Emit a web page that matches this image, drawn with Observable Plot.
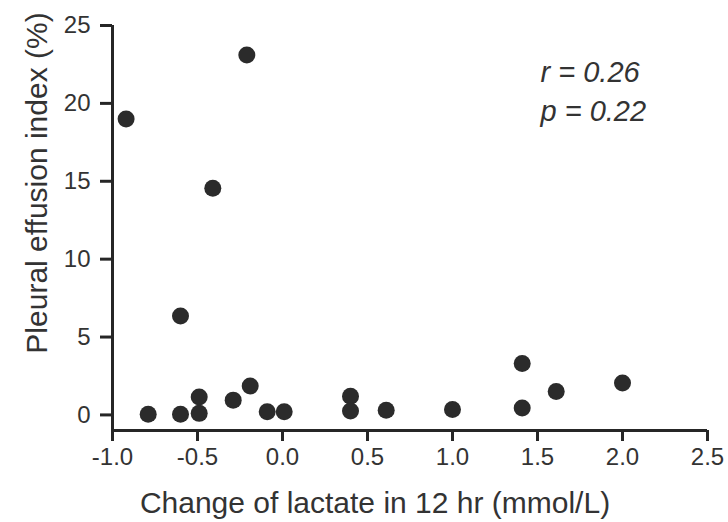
<!DOCTYPE html>
<html>
<head>
<meta charset="utf-8">
<script src="https://cdn.jsdelivr.net/npm/d3@7"></script>
<script src="https://cdn.jsdelivr.net/npm/@observablehq/plot@0.6"></script>
<style>
  html, body { margin: 0; padding: 0; background: #ffffff; }
  #chart { width: 728px; height: 522px; }
</style>
</head>
<body>
<div id="chart"></div>
<script>
// Data
const lactateChange = [-0.92, -0.21, -0.41, -0.60, -0.79, -0.60, -0.49, -0.49, -0.29, -0.19, -0.09, 0.01, 0.40, 0.40, 0.61, 1.00, 1.41, 1.41, 1.61, 2.00];
const effusionIndex = [19.0, 23.1, 14.55, 6.35, 0.05, 0.05, 0.1, 1.15, 0.95, 1.85, 0.2, 0.2, 1.2, 0.25, 0.3, 0.35, 3.3, 0.45, 1.5, 2.05];
const xTicks = [-1.0, -0.5, 0.0, 0.5, 1.0, 1.5, 2.0, 2.5];
const yTicks = [0, 5, 10, 15, 20, 25];
const statsText = ["r = 0.26", "p = 0.22"];
const xLabel = "Change of lactate in 12 hr (mmol/L)";
const yLabel = "Pleural effusion index (%)";

const points = lactateChange.map((x, i) => ({x, y: effusionIndex[i]}));
const font = "'Liberation Sans', Arial, Helvetica, sans-serif";
const ink = "#262626";

const chart = Plot.plot({
  width: 728,
  height: 522,
  marginLeft: 112,
  marginRight: 21,
  marginTop: 25,
  marginBottom: 92,
  style: {background: "#ffffff", fontFamily: font, color: ink},
  x: {domain: [-1, 2.5]},
  y: {domain: [-1, 25]},
  marks: [
    Plot.ruleX([xTicks[0]], {stroke: ink, strokeWidth: 3}),
    Plot.ruleY([-1], {stroke: ink, strokeWidth: 3}),
    Plot.axisY({
      ticks: yTicks,
      tickSize: 12,
      tickPadding: 10,
      strokeWidth: 3,
      stroke: ink,
      fontSize: 24,
      fill: "#333",
      tickFormat: d => String(d),
      label: null
    }),
    Plot.axisX({
      ticks: xTicks,
      tickSize: 11,
      tickPadding: 6,
      strokeWidth: 3,
      stroke: ink,
      fontSize: 24,
      fill: "#333",
      tickFormat: d => d.toFixed(1),
      label: null
    }),
    Plot.dot(points, {x: "x", y: "y", r: 8.5, fill: "#2b2b2b", stroke: "none"}),
    Plot.text([statsText.join("\n")], {
      text: d => d,
      frameAnchor: "top-left",
      textAnchor: "start",
      lineAnchor: "top",
      lineHeight: 1.35,
      dx: 428,
      dy: 29,
      fontSize: 29,
      fontStyle: "italic",
      fill: "#333"
    }),
    Plot.text([xLabel], {
      text: d => d,
      frameAnchor: "bottom",
      textAnchor: "middle",
      lineAnchor: "middle",
      dx: -35,
      dy: 73,
      fontSize: 30,
      fill: "#333"
    }),
    Plot.text([yLabel], {
      text: d => d,
      frameAnchor: "left",
      textAnchor: "middle",
      lineAnchor: "middle",
      rotate: -90,
      dx: -75,
      dy: -45,
      fontSize: 30,
      fill: "#333"
    })
  ]
});

document.getElementById("chart").appendChild(chart);
</script>
</body>
</html>
